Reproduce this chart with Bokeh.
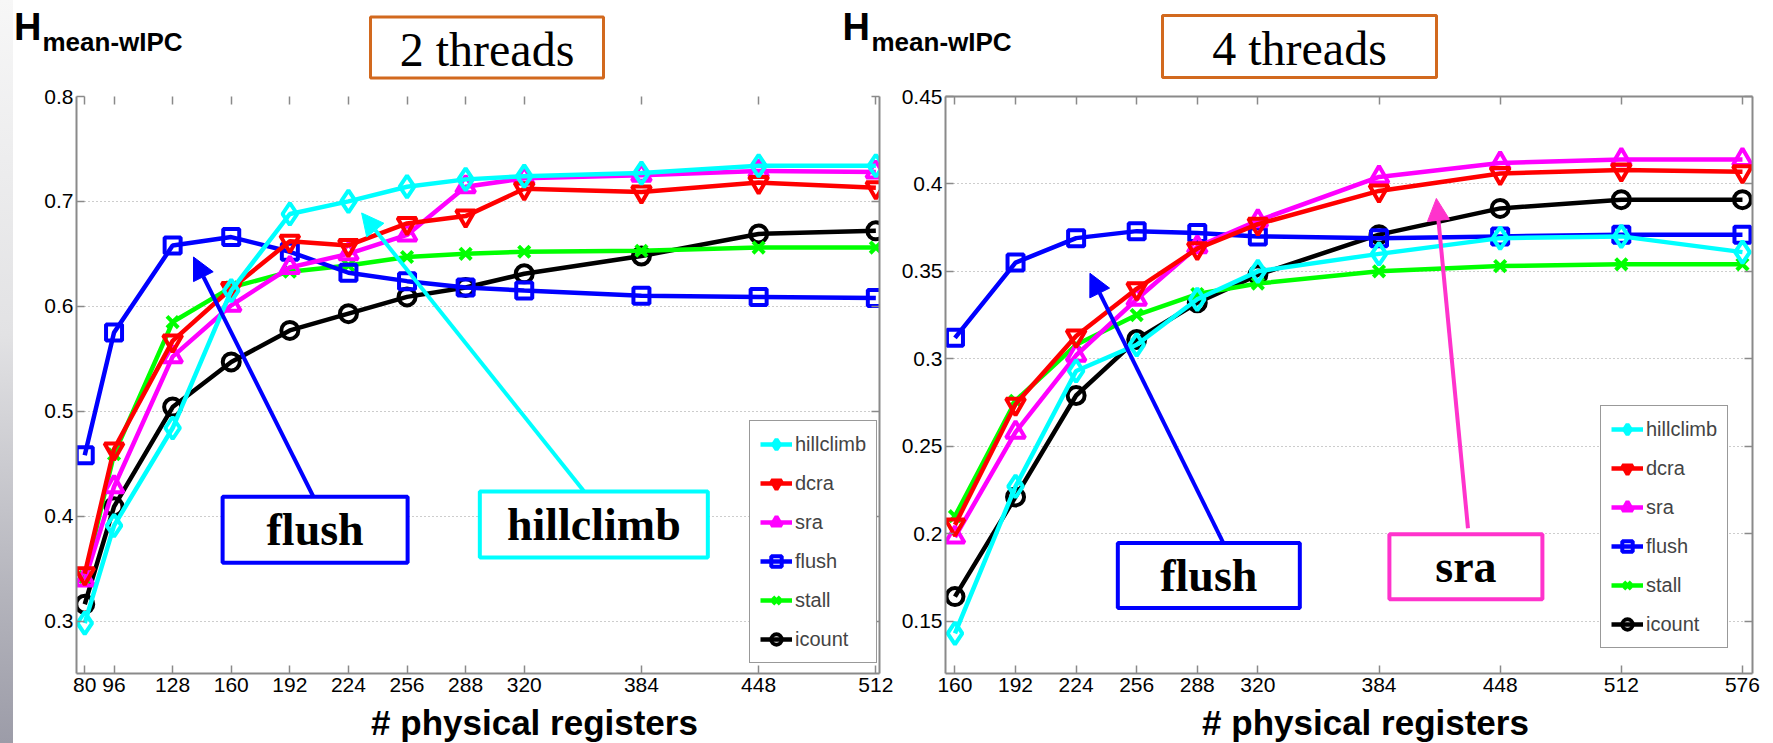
from bokeh.plotting import figure
from bokeh.layouts import row, column
from bokeh.models import (FixedTicker, LinearAxis, Label, Arrow, NormalHead, Legend,
                          LegendItem, CustomJSTickFormatter, ColumnDataSource, Range1d, Spacer)
from bokeh.core.properties import value
from bokeh.embed import file_html
from bokeh.resources import INLINE

# ---------------- data: 2 threads ----------------
regs_2t = [80, 96, 128, 160, 192, 224, 256, 288, 320, 384, 448, 512]
hill_2t = [0.298, 0.391, 0.484, 0.615, 0.688, 0.700, 0.714, 0.721, 0.724, 0.727, 0.734, 0.734]
dcra_2t = [0.345, 0.464, 0.567, 0.617, 0.662, 0.658, 0.679, 0.686, 0.712, 0.709, 0.718, 0.713]
sra_2t = [0.339, 0.428, 0.552, 0.601, 0.637, 0.650, 0.668, 0.714, 0.722, 0.725, 0.729, 0.728]
flush_2t = [0.458, 0.575, 0.658, 0.666, 0.652, 0.632, 0.624, 0.618, 0.615, 0.610, 0.609, 0.608]
stall_2t = [0.342, 0.459, 0.585, 0.618, 0.633, 0.639, 0.647, 0.650, 0.652, 0.653, 0.656, 0.656]
icount_2t = [0.316, 0.409, 0.504, 0.547, 0.577, 0.593, 0.609, 0.618, 0.631, 0.648, 0.669, 0.672]

# ---------------- data: 4 threads ----------------
regs_4t = [160, 192, 224, 256, 288, 320, 384, 448, 512, 576]
hill_4t = [0.143, 0.227, 0.293, 0.308, 0.334, 0.350, 0.360, 0.369, 0.370, 0.361]
dcra_4t = [0.205, 0.274, 0.313, 0.340, 0.363, 0.377, 0.396, 0.406, 0.408, 0.407]
sra_4t = [0.198, 0.258, 0.302, 0.334, 0.364, 0.379, 0.404, 0.412, 0.414, 0.414]
flush_4t = [0.312, 0.355, 0.369, 0.373, 0.372, 0.370, 0.369, 0.370, 0.371, 0.371]
stall_4t = [0.210, 0.276, 0.308, 0.325, 0.337, 0.343, 0.350, 0.353, 0.354, 0.354]
icount_4t = [0.164, 0.221, 0.279, 0.311, 0.332, 0.348, 0.371, 0.386, 0.391, 0.391]

# tick labels
xticks_2t = [80, 96, 128, 160, 192, 224, 256, 288, 320, 384, 448, 512]
yticks_2t = [0.3, 0.4, 0.5, 0.6, 0.7, 0.8]
xticks_4t = [160, 192, 224, 256, 288, 320, 384, 448, 512, 576]
yticks_4t = [0.15, 0.2, 0.25, 0.3, 0.35, 0.4, 0.45]

series_names = ["hillclimb", "dcra", "sra", "flush", "stall", "icount"]
series_colors = ["#00FFFF", "#FF0000", "#FF00FF", "#0000FF", "#00FF00", "#000000"]
series_markers = ["diamond", "inverted_triangle", "triangle", "square", "x", "circle"]
series_sizes = [22, 19, 19, 16, 16, 17]

# header / footer texts
y_title_main = "H"
y_title_sub = "mean-wIPC"
panel_titles = ["2 threads", "4 threads"]
x_title = "# physical registers"

GRAY = "#8a8a8a"
SANS = "Liberation Sans"
SERIF = "Liberation Serif"
TOTAL_W = 1773
TOTAL_H = 743
STRIP_W = 13
INNER_W = TOTAL_W - STRIP_W
HEAD_H = 82
PLOT_H = 619
FOOT_H = TOTAL_H - HEAD_H - PLOT_H
X0 = STRIP_W  # page x of the header/footer left edge


def style_axes(p, xt, yt, top_line):
    xtick = FixedTicker(ticks=xt)
    ytick = FixedTicker(ticks=yt)
    fmt = CustomJSTickFormatter(code="return tick.toFixed(2).replace(/0$/, '')")
    p.xaxis.ticker = xtick
    p.yaxis.ticker = ytick
    p.yaxis.formatter = fmt
    for ax in (p.xaxis[0], p.yaxis[0]):
        ax.major_tick_in = 8
        ax.major_tick_out = 0
        ax.minor_tick_line_color = None
        ax.axis_line_color = GRAY
        ax.axis_line_width = 2
        ax.major_tick_line_color = GRAY
        ax.major_tick_line_width = 1.5
        ax.major_label_text_font = SANS
        ax.major_label_text_font_size = "21px"
        ax.major_label_text_color = "black"
        ax.major_label_standoff = 4
    p.yaxis.major_label_standoff = 3
    for loc, tk in (("above", xtick), ("right", ytick)):
        ax = LinearAxis(ticker=tk, major_label_text_font_size="0px",
                        formatter=CustomJSTickFormatter(code="return ''"),
                        major_tick_in=8, major_tick_out=0, minor_tick_line_color=None,
                        axis_line_color=GRAY, axis_line_width=2,
                        major_tick_line_color=GRAY, major_tick_line_width=1.5,
                        major_label_standoff=0)
        if loc == "above" and not top_line:
            ax.axis_line_color = None
        p.add_layout(ax, loc)
    p.xgrid.visible = False
    p.ygrid.grid_line_color = "#9a9a9a"
    p.ygrid.grid_line_dash = "1 3"
    p.ygrid.grid_line_width = 1.2
    p.outline_line_color = None
    p.background_fill_color = "white"
    p.border_fill_color = "white"


def draw_series(p, xs, ys_list):
    out = [None] * len(ys_list)
    # draw order: icount at bottom ... hillclimb on top
    for i in reversed(range(len(ys_list))):
        c, m, s = series_colors[i], series_markers[i], series_sizes[i]
        src = ColumnDataSource(dict(x=xs, y=ys_list[i]))
        l = p.line("x", "y", source=src, line_color=c, line_width=4.5)
        sc = p.scatter("x", "y", source=src, marker=m, size=s, line_color=c,
                       fill_color=None, line_width=4)
        out[i] = [l, sc]
    return out


def add_legend(p, rend_list, loc):
    items = [LegendItem(label=n, renderers=r) for n, r in zip(series_names, rend_list)]
    lg = Legend(items=items, location=loc, margin=0, padding=10, spacing=13,
                glyph_width=32, glyph_height=26, label_height=26, label_standoff=3,
                label_text_font=SANS, label_text_font_size="20px",
                border_line_color="#333333", border_line_width=1.5,
                background_fill_color="white", background_fill_alpha=1.0)
    p.add_layout(lg)


def callout(p, cx, cy, w, h, text, color, sx, sy, ex, ey):
    p.rect(x=[cx], y=[cy], width=[w], height=[h], width_units="screen",
           height_units="screen", fill_color="white", line_color=color, line_width=4)
    p.add_layout(Arrow(end=NormalHead(size=22, fill_color=color, line_color=color, line_width=1),
                       x_start=sx, y_start=sy, x_end=ex, y_end=ey,
                       line_color=color, line_width=4))
    p.add_layout(Label(x=cx, y=cy, text=text, text_align="center", text_baseline="middle",
                       text_font=SERIF, text_font_style="bold",
                       text_font_size="46px", text_color="black"))


def bare(fig):
    fig.xgrid.visible = False
    fig.ygrid.visible = False
    fig.outline_line_color = None
    fig.background_fill_color = "white"
    fig.border_fill_color = "white"


# ---------------- header (page pixel coordinates, y downward) ----------------
head = figure(width=INNER_W, height=HEAD_H, x_range=Range1d(X0, TOTAL_W), y_range=Range1d(HEAD_H, 0),
              output_backend="svg", toolbar_location=None, x_axis_location=None,
              y_axis_location=None, min_border=0)
bare(head)
h_x = [13.5, 842]
sub_x = [42, 871]
head.text(x=h_x, y=[26.5, 26.5], text=[y_title_main] * 2, text_font=value(SANS),
          text_font_style="bold", text_font_size="38px", text_align="left",
          text_baseline="middle", text_color="black")
head.text(x=sub_x, y=[41, 41], text=[y_title_sub] * 2, text_font=value(SANS),
          text_font_style="bold", text_font_size="26px", text_align="left",
          text_baseline="middle", text_color="black")
box_cx = [486.5, 1299]
box_cy = [47, 46]
box_w = [233, 274]
box_h = [61, 62]
head.rect(x=box_cx, y=box_cy, width=box_w, height=box_h, fill_color="white",
          line_color="#D2691E", line_width=3)
head.text(x=box_cx, y=[b + 2 for b in box_cy], text=panel_titles, text_font=value(SERIF),
          text_font_size="48px", text_align="center", text_baseline="middle",
          text_color="black")

# ---------------- left: 2 threads ----------------
p1 = figure(width=898 - STRIP_W, height=PLOT_H, x_range=Range1d(75.5, 514),
            y_range=Range1d(0.25, 0.8), output_backend="svg", toolbar_location=None,
            min_border_left=76 - STRIP_W, min_border_right=19, min_border_top=14,
            min_border_bottom=28)
style_axes(p1, xticks_2t, yticks_2t, top_line=False)
r1 = draw_series(p1, regs_2t, [hill_2t, dcra_2t, sra_2t, flush_2t, stall_2t, icount_2t])
callout(p1, 205.8, 0.387, 185, 66, "flush", "#0000FF", 205.0, 0.418, 139.4, 0.647)
callout(p1, 358.0, 0.392, 228, 66, "hillclimb", "#00FFFF", 352.5, 0.424, 231.2, 0.689)
add_legend(p1, r1, (673, 10))

# ---------------- right: 4 threads ----------------
p2 = figure(width=875, height=PLOT_H, x_range=Range1d(155, 581.3), y_range=Range1d(0.12, 0.45),
            output_backend="svg", toolbar_location=None,
            min_border_left=45, min_border_right=21, min_border_top=14, min_border_bottom=28)
style_axes(p2, xticks_4t, yticks_4t, top_line=True)
r2 = draw_series(p2, regs_4t, [hill_4t, dcra_4t, sra_4t, flush_4t, stall_4t, icount_4t])
callout(p2, 294.1, 0.176, 182, 65, "flush", "#0000FF", 301.8, 0.1946, 231.3, 0.3489)
callout(p2, 429.9, 0.1811, 153, 65, "sra", "#FF33CC", 431.0, 0.2031, 414.3, 0.3917)
add_legend(p2, r2, (655, 25))

# ---------------- footer: x-axis titles ----------------
foot_top = HEAD_H + PLOT_H
foot = figure(width=INNER_W, height=FOOT_H, x_range=Range1d(X0, TOTAL_W),
              y_range=Range1d(TOTAL_H, foot_top), output_backend="svg", toolbar_location=None,
              x_axis_location=None, y_axis_location=None, min_border=0)
bare(foot)
foot.text(x=[534, 1365], y=[721.5, 721.5], text=[x_title] * 2, text_font=value(SANS),
          text_font_style="bold", text_font_size="35px", text_align="center",
          text_baseline="middle", text_color="black")

# slide-background strip along the left page edge
strip = Spacer(width=STRIP_W, height=TOTAL_H,
               styles={"background": "linear-gradient(to bottom, #f7f7f7 0%, #e2e2e4 45%, #b4b4bc 80%, #9c9ca8 100%)"})

layout = row(strip, column(head, row(p1, p2), foot))
open("out.html", "w").write(file_html(layout, INLINE))
